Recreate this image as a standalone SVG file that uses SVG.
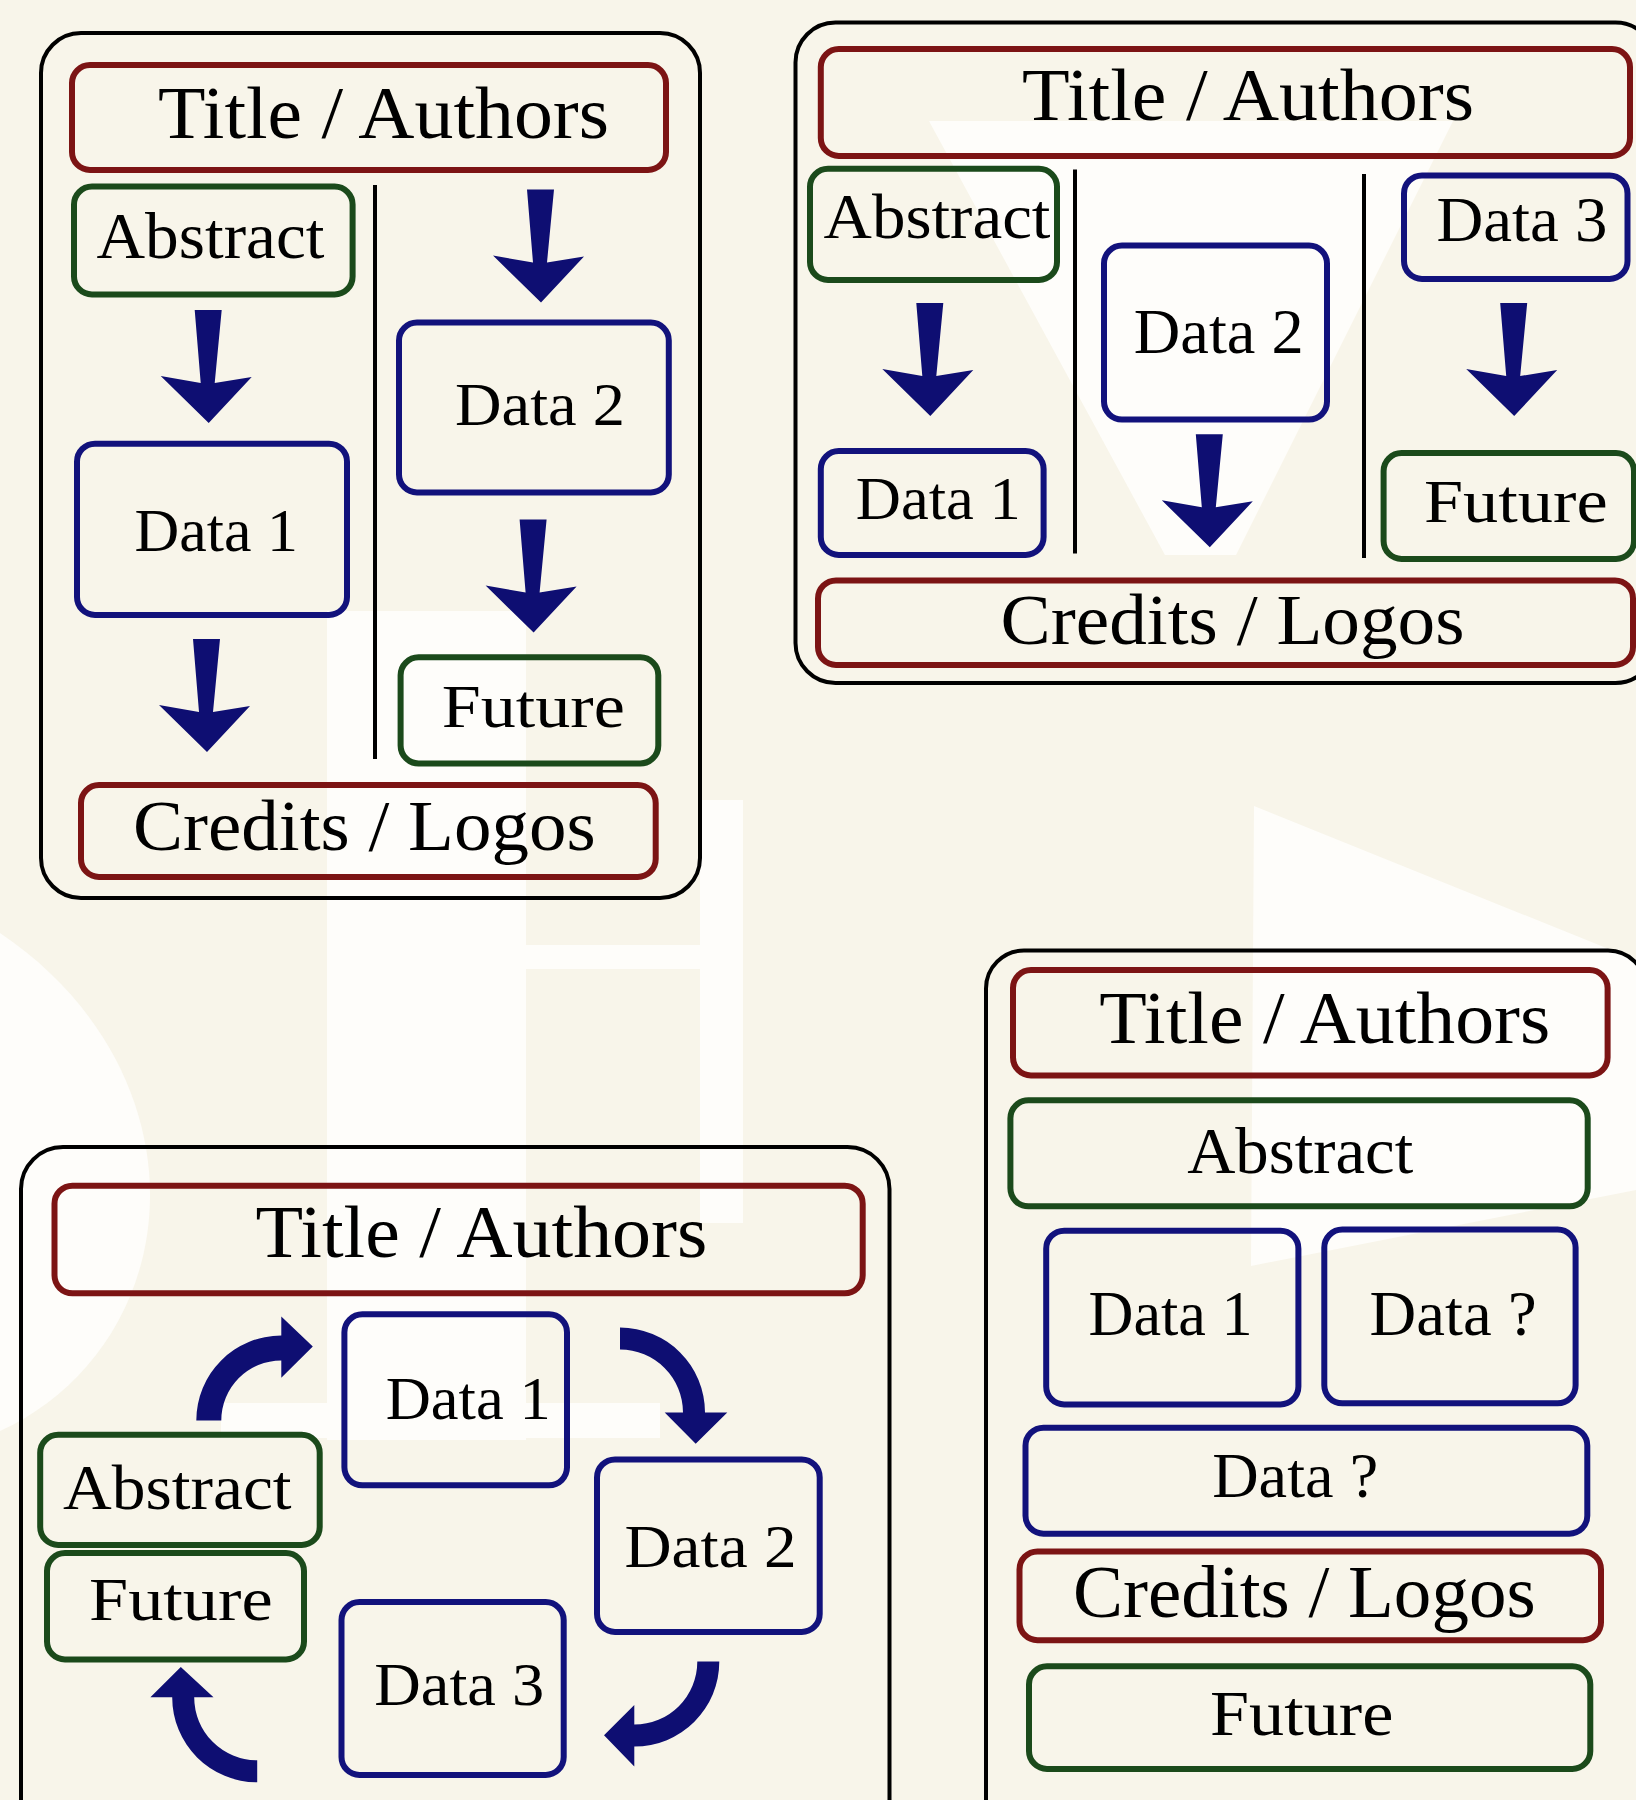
<svg xmlns="http://www.w3.org/2000/svg" xmlns:xlink="http://www.w3.org/1999/xlink" width="1636" height="1800" viewBox="0 0 1636 1800">
<style>
  .panel { fill: none; stroke: #000; stroke-width: 4; }
  .box { fill: none; stroke-width: 6; }
  .red { stroke: #7c1414; }
  .grn { stroke: #1b4a1b; }
  .blu { stroke: #12127c; }
  .div { stroke: #000; stroke-width: 4; }
  .arr { fill: #0e0e72; stroke: none; }
  text { font-family: "Liberation Serif", "DejaVu Serif", serif; fill: #000; }
  .wm { fill: #fefdfa; stroke: none; }
</style>
<defs>
  <path id="darrow" d="M -14,-113 L 13,-113 L 6,-40 L 43,-46 L 0,0 L -48,-47 L -8,-40 Z"/>
</defs>

<g id="background">
  <rect x="0" y="0" width="1636" height="1800" fill="#f8f5ea"/>
  <rect class="wm" x="327" y="611" width="199" height="829"/>
  <rect class="wm" x="221" y="1403" width="439" height="35"/>
  <rect class="wm" x="526" y="945" width="217" height="24"/>
  <rect class="wm" x="700" y="800" width="43" height="423"/>
  <path class="wm" d="M 0,933 C 100,1000 150,1100 150,1195 C 150,1300 90,1390 0,1431 Z"/>
  <path class="wm" d="M 1254,806 L 1636,960 L 1636,1190 L 1251,1266 Z"/>
  <path class="wm" d="M 929,121 L 1453,121 L 1236,555 L 1165,555 Z"/>
</g>

<g id="panel-1">
  <rect class="panel" x="41" y="33" width="659" height="865" rx="40"/>
  <line class="div" x1="375" y1="185" x2="375" y2="759"/>
</g>
<g id="p1-title"><rect class="box red" x="72" y="65" width="594" height="105" rx="18"/><text x="158" y="138" font-size="74" textLength="451" lengthAdjust="spacingAndGlyphs">Title / Authors</text></g>
<g id="p1-abstract"><rect class="box grn" x="74" y="186.6" width="278.6" height="107.9" rx="18"/><text x="96.5" y="258" font-size="65" textLength="228" lengthAdjust="spacingAndGlyphs">Abstract</text></g>
<g id="p1-data1"><rect class="box blu" x="77" y="443.7" width="270" height="171.3" rx="18"/><text x="134.6" y="551" font-size="62" textLength="163.4" lengthAdjust="spacingAndGlyphs">Data 1</text></g>
<g id="p1-data2"><rect class="box blu" x="399" y="322.6" width="269.8" height="169.9" rx="18"/><text x="455" y="424.8" font-size="62" textLength="170" lengthAdjust="spacingAndGlyphs">Data 2</text></g>
<g id="p1-future"><rect class="box grn" x="400.6" y="657.3" width="257.7" height="106.2" rx="18"/><text x="441.8" y="726.8" font-size="62" textLength="183" lengthAdjust="spacingAndGlyphs">Future</text></g>
<g id="p1-credits"><rect class="box red" x="81" y="785" width="574.7" height="92" rx="18"/><text x="133" y="849.6" font-size="71" textLength="462.7" lengthAdjust="spacingAndGlyphs">Credits / Logos</text></g>

<g id="panel-2">
  <rect class="panel" x="795.5" y="22.5" width="860" height="660.5" rx="40"/>
  <line class="div" x1="1075" y1="169.6" x2="1075" y2="553.6"/>
  <line class="div" x1="1364" y1="174" x2="1364" y2="558"/>
</g>
<g id="p2-title"><rect class="box red" x="820.8" y="49" width="809.2" height="107" rx="18"/><text x="1022" y="119.6" font-size="73" textLength="452" lengthAdjust="spacingAndGlyphs">Title / Authors</text></g>
<g id="p2-abstract"><rect class="box grn" x="810" y="168.8" width="247" height="111.2" rx="18"/><text x="823.5" y="238" font-size="63" textLength="227" lengthAdjust="spacingAndGlyphs">Abstract</text></g>
<g id="p2-data1"><rect class="box blu" x="820.8" y="451" width="222.8" height="104" rx="18"/><text x="855.8" y="519" font-size="62" textLength="165" lengthAdjust="spacingAndGlyphs">Data 1</text></g>
<g id="p2-data2"><rect class="box blu" x="1104" y="245.5" width="223" height="174.1" rx="18"/><text x="1133.8" y="352.7" font-size="63" textLength="170" lengthAdjust="spacingAndGlyphs">Data 2</text></g>
<g id="p2-data3"><rect class="box blu" x="1404" y="175.4" width="223.5" height="103.6" rx="18"/><text x="1436.5" y="241" font-size="63" textLength="171" lengthAdjust="spacingAndGlyphs">Data 3</text></g>
<g id="p2-future"><rect class="box grn" x="1383.6" y="453" width="250.4" height="106" rx="18"/><text x="1424" y="522.3" font-size="61" textLength="183.6" lengthAdjust="spacingAndGlyphs">Future</text></g>
<g id="p2-credits"><rect class="box red" x="818" y="580.4" width="815" height="84.6" rx="18"/><text x="1000.5" y="643.8" font-size="72" textLength="464" lengthAdjust="spacingAndGlyphs">Credits / Logos</text></g>

<g id="panel-3">
  <rect class="panel" x="21" y="1147" width="868.5" height="720" rx="42"/>
</g>
<g id="p3-title"><rect class="box red" x="54.5" y="1185.7" width="808.2" height="107.6" rx="18"/><text x="255.4" y="1257" font-size="74" textLength="452" lengthAdjust="spacingAndGlyphs">Title / Authors</text></g>
<g id="p3-data1"><rect class="box blu" x="344.4" y="1314.3" width="222.6" height="171" rx="18"/><text x="385.7" y="1419.2" font-size="61" textLength="165" lengthAdjust="spacingAndGlyphs">Data 1</text></g>
<g id="p3-data2"><rect class="box blu" x="597" y="1459.4" width="222.7" height="172.6" rx="18"/><text x="624.5" y="1566.5" font-size="61" textLength="172" lengthAdjust="spacingAndGlyphs">Data 2</text></g>
<g id="p3-data3"><rect class="box blu" x="341.5" y="1602" width="222.2" height="173" rx="18"/><text x="374.3" y="1705" font-size="61" textLength="170" lengthAdjust="spacingAndGlyphs">Data 3</text></g>
<g id="p3-abstract"><rect class="box grn" x="40.2" y="1434.8" width="279.5" height="110.2" rx="18"/><text x="63" y="1508.5" font-size="64" textLength="228.6" lengthAdjust="spacingAndGlyphs">Abstract</text></g>
<g id="p3-future"><rect class="box grn" x="47" y="1553" width="257" height="106.4" rx="18"/><text x="89" y="1620" font-size="61" textLength="183.7" lengthAdjust="spacingAndGlyphs">Future</text></g>

<g id="panel-4">
  <rect class="panel" x="986" y="950.5" width="660" height="900" rx="38"/>
</g>
<g id="p4-title"><rect class="box red" x="1013" y="970" width="594.6" height="105.4" rx="18"/><text x="1099.3" y="1042.6" font-size="74" textLength="451" lengthAdjust="spacingAndGlyphs">Title / Authors</text></g>
<g id="p4-abstract"><rect class="box grn" x="1010.4" y="1100.3" width="577.3" height="106" rx="18"/><text x="1187.2" y="1172.5" font-size="65" textLength="226" lengthAdjust="spacingAndGlyphs">Abstract</text></g>
<g id="p4-data1"><rect class="box blu" x="1046.2" y="1230.7" width="252.2" height="173.7" rx="18"/><text x="1088.5" y="1335" font-size="63" textLength="164" lengthAdjust="spacingAndGlyphs">Data 1</text></g>
<g id="p4-dataq1"><rect class="box blu" x="1324.3" y="1229.6" width="251.3" height="173.7" rx="18"/><text x="1369.6" y="1335" font-size="63" textLength="167" lengthAdjust="spacingAndGlyphs">Data ?</text></g>
<g id="p4-dataq2"><rect class="box blu" x="1025.5" y="1427.7" width="561.8" height="106" rx="18"/><text x="1212.2" y="1497" font-size="63" textLength="166" lengthAdjust="spacingAndGlyphs">Data ?</text></g>
<g id="p4-credits"><rect class="box red" x="1019.5" y="1551.4" width="581.5" height="88.8" rx="18"/><text x="1073" y="1617" font-size="74" textLength="462.6" lengthAdjust="spacingAndGlyphs">Credits / Logos</text></g>
<g id="p4-future"><rect class="box grn" x="1029" y="1666.3" width="561.3" height="102.7" rx="18"/><text x="1210" y="1734.5" font-size="63" textLength="183.3" lengthAdjust="spacingAndGlyphs">Future</text></g>

<g id="connectors">
  <use class="arr" href="#darrow" xlink:href="#darrow" transform="translate(208.7,423)"/>
  <use class="arr" href="#darrow" xlink:href="#darrow" transform="translate(207,752)"/>
  <use class="arr" href="#darrow" xlink:href="#darrow" transform="translate(541,302.5)"/>
  <use class="arr" href="#darrow" xlink:href="#darrow" transform="translate(533.6,632.6)"/>
  <use class="arr" href="#darrow" xlink:href="#darrow" transform="translate(930.3,416)"/>
  <use class="arr" href="#darrow" xlink:href="#darrow" transform="translate(1209.8,547.3)"/>
  <use class="arr" href="#darrow" xlink:href="#darrow" transform="translate(1514.2,416)"/>
  <path class="arr" d="M 196.3,1420.5 A 85 85 0 0 1 281.3,1335.5 L 281.3,1316.5 L 312.8,1346.4 L 281.3,1377.7 L 281.3,1360.5 A 60 60 0 0 0 221.3,1420.5 Z"/>
  <path class="arr" d="M 620,1327.5 A 85 85 0 0 1 705,1412.5 L 727.3,1412.5 L 695.7,1443.75 L 664.7,1412.5 L 683,1412.5 A 63 63 0 0 0 620,1349.5 Z"/>
  <path class="arr" d="M 719.3,1661.6 A 85 85 0 0 1 634.3,1746.6 L 634.3,1766.5 L 604,1735.3 L 634.3,1705 L 634.3,1724.6 A 63 63 0 0 0 697.3,1661.6 Z"/>
  <path class="arr" d="M 257.2,1782.3 A 85 85 0 0 1 172.2,1697.3 L 150.4,1697.3 L 180.8,1667 L 213.5,1697.3 L 194.2,1697.3 A 63 63 0 0 0 257.2,1760.3 Z"/>
</g>
</svg>
